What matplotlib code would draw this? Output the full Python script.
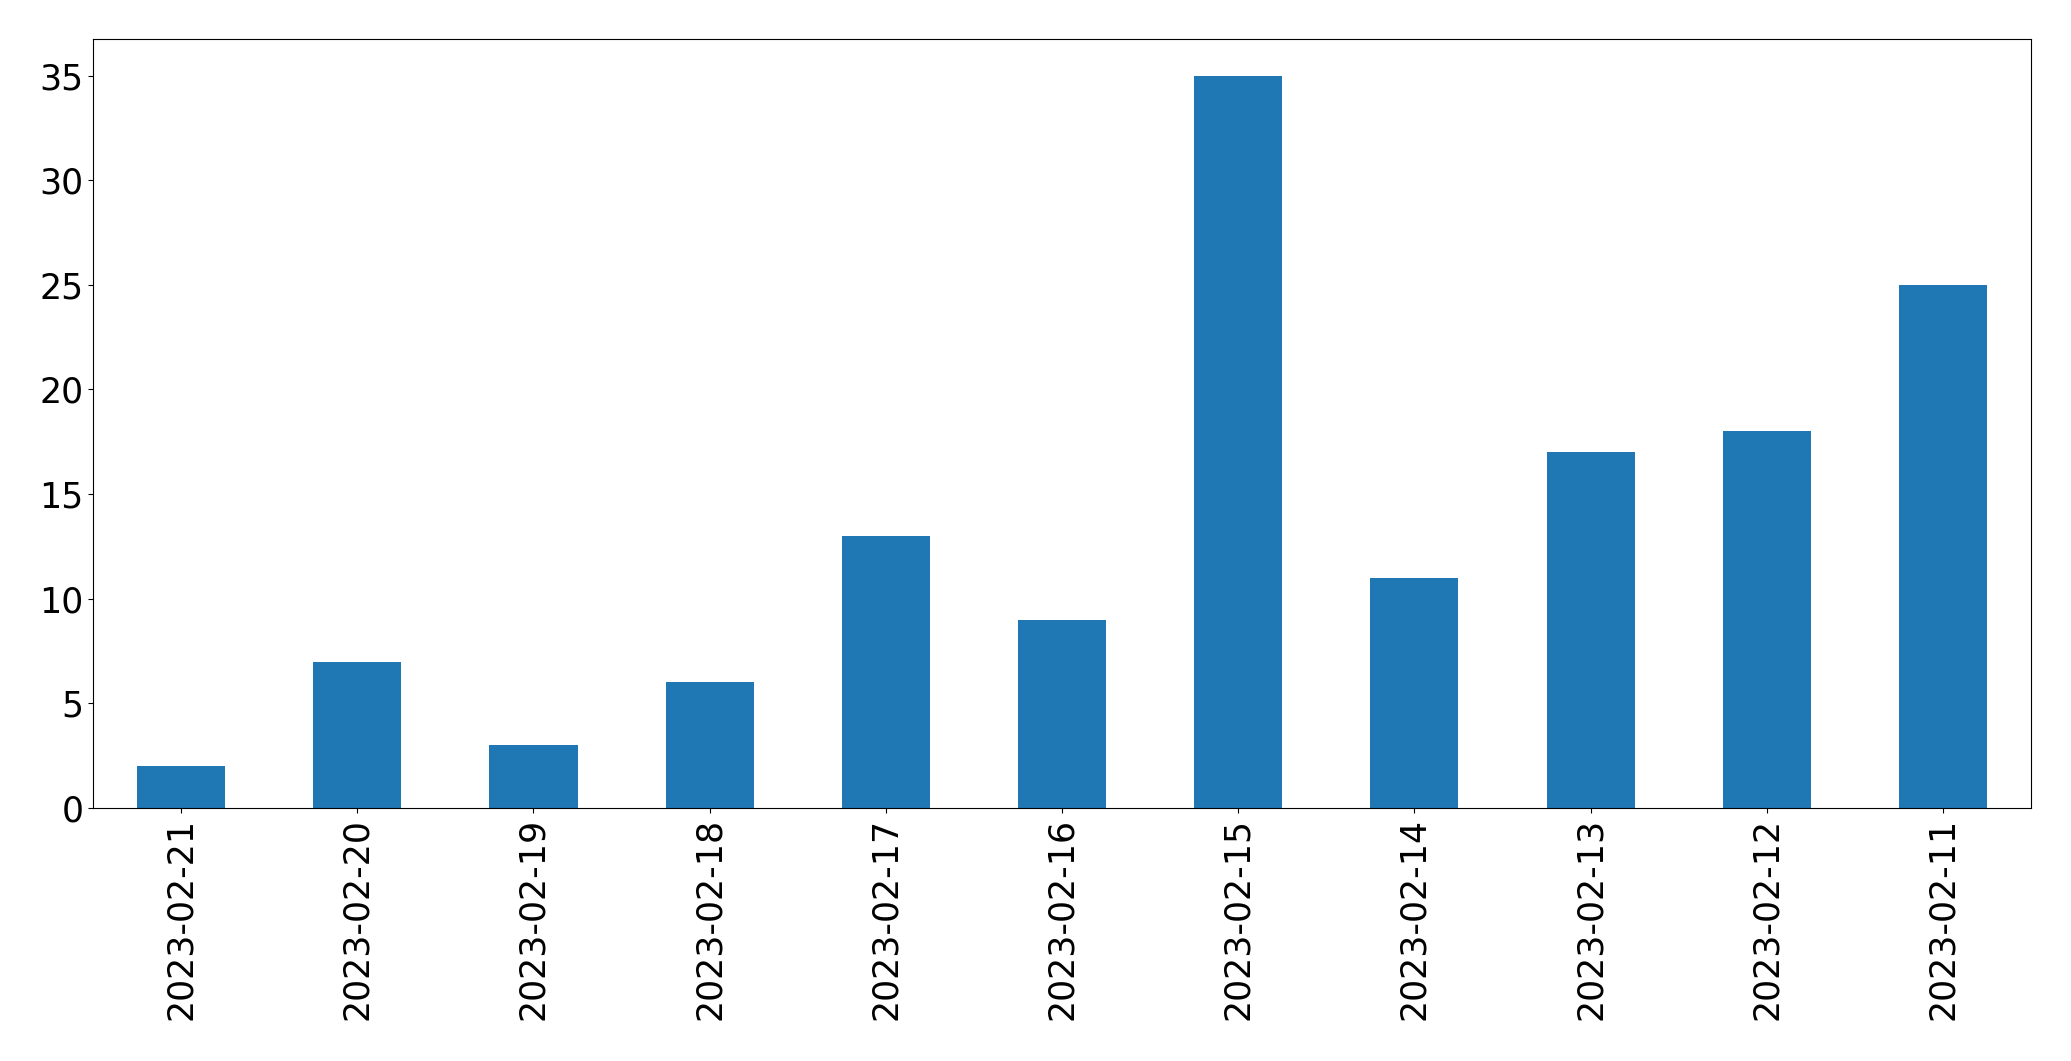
import matplotlib.pyplot as plt
import numpy as np

dates = ['2023-02-21', '2023-02-20', '2023-02-19', '2023-02-18', '2023-02-17',
         '2023-02-16', '2023-02-15', '2023-02-14', '2023-02-13', '2023-02-12',
         '2023-02-11']
counts = [2, 7, 3, 6, 13, 9, 35, 11, 17, 18, 25]

fig = plt.figure(figsize=(20.71, 10.61), dpi=100)
ax = fig.add_axes([93 / 2071, 1 - 808 / 1061, 1938 / 2071, 769 / 1061])

x = np.arange(len(dates))
ax.bar(x, counts, width=0.5, color='#1f77b4')
ax.set_xlim(-0.5, len(dates) - 0.5)
ax.set_xticks(x)
ax.set_xticklabels(dates, rotation=90)
ax.tick_params(labelsize=25)

fig.savefig('out.png', dpi=100)
